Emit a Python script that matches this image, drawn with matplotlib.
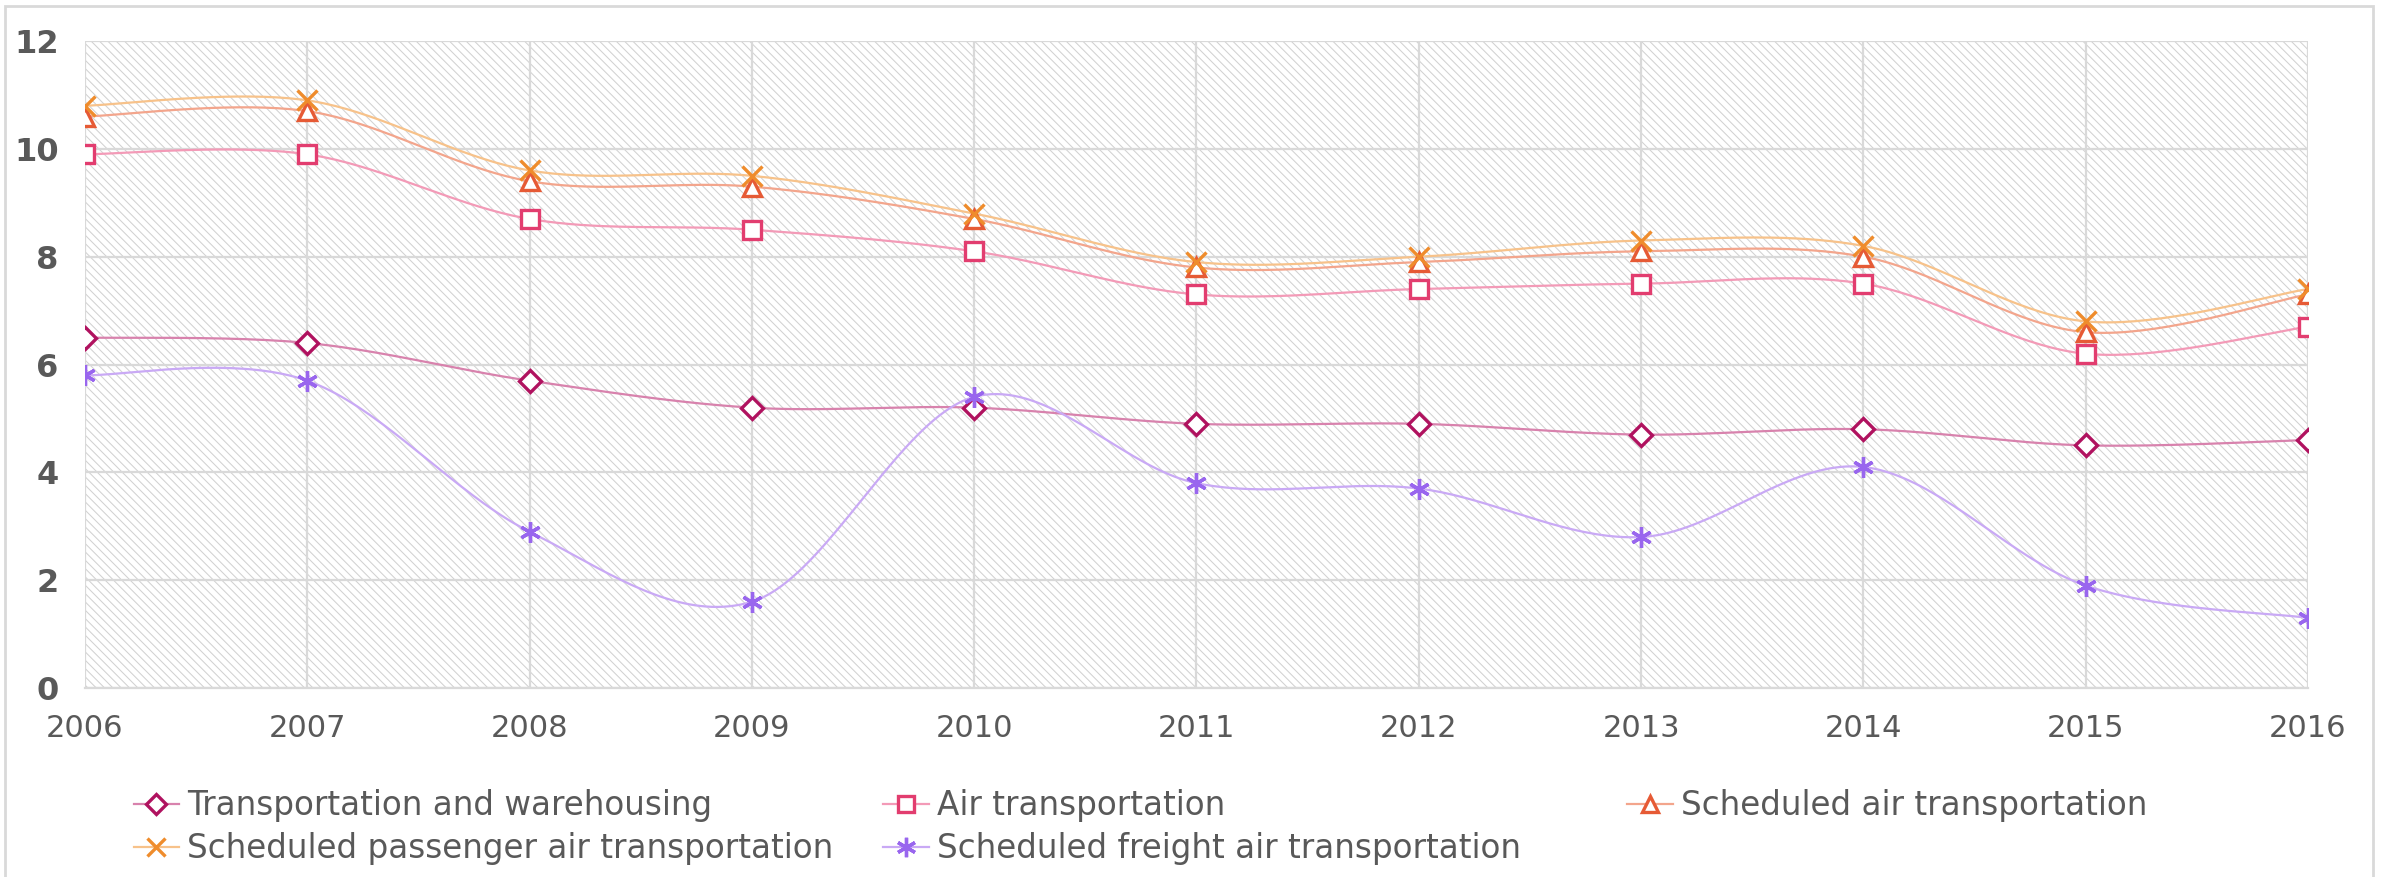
import numpy as np
import matplotlib
matplotlib.use("Agg")
import matplotlib.pyplot as plt
from matplotlib.patches import Rectangle
from matplotlib.lines import Line2D

years = [2006, 2007, 2008, 2009, 2010, 2011, 2012, 2013, 2014, 2015, 2016]

warehousing = [6.5, 6.4, 5.7, 5.2, 5.2, 4.9, 4.9, 4.7, 4.8, 4.5, 4.6]
air = [9.9, 9.9, 8.7, 8.5, 8.1, 7.3, 7.4, 7.5, 7.5, 6.2, 6.7]
scheduled = [10.6, 10.7, 9.4, 9.3, 8.7, 7.8, 7.9, 8.1, 8.0, 6.6, 7.3]
passenger = [10.8, 10.9, 9.6, 9.5, 8.8, 7.9, 8.0, 8.3, 8.2, 6.8, 7.4]
freight = [5.8, 5.7, 2.9, 1.6, 5.4, 3.8, 3.7, 2.8, 4.1, 1.9, 1.3]

names = [
    "Transportation and warehousing",
    "Air transportation",
    "Scheduled air transportation",
    "Scheduled passenger air transportation",
    "Scheduled freight air transportation",
]

STAR = (6, 2, 0)
# (marker, marker colour, line colour, size)
styles = [
    ("D", "#b0125f", "#d882ad", 11),
    ("s", "#e23d6f", "#f39ab7", 13),
    ("^", "#e65a35", "#f3a58c", 13),
    ("x", "#ef8c2c", "#f7c28a", 14),
    (STAR, "#9966ee", "#c9a9f5", 15),
]

TEXT = "#595959"
GRID = "#d9d9d9"


def smooth(xs, ys, n=40):
    # excel-like smoothing: bezier segments with catmull-rom control points
    p = np.column_stack([xs, ys]).astype(float)
    p = np.vstack([p[0], p, p[-1]])
    out = []
    t = np.linspace(0, 1, n)[:, None]
    for i in range(1, len(p) - 2):
        p0, p3 = p[i], p[i + 1]
        c1 = p0 + (p[i + 1] - p[i - 1]) / 6
        c2 = p3 - (p[i + 2] - p[i]) / 6
        seg = ((1 - t) ** 3) * p0 + 3 * ((1 - t) ** 2) * t * c1 + 3 * (1 - t) * t ** 2 * c2 + t ** 3 * p3
        out.append(seg if i == 1 else seg[1:])
    out = np.vstack(out)
    return out[:, 0], out[:, 1]


plt.rcParams["font.family"] = ["DejaVu Sans"]
plt.rcParams["hatch.linewidth"] = 0.75
plt.rcParams["hatch.color"] = "#d2d2d2"

fig = plt.figure(figsize=(23.86, 8.77), dpi=100)
ax = fig.add_axes([0.0356, 0.2155, 0.9317, 0.7377])

# hatched plot area
ax.add_patch(Rectangle((0, 0), 1, 1, transform=ax.transAxes, facecolor="white",
                       edgecolor="#d2d2d2", hatch="\\" * 4, lw=0, zorder=0))

series = [warehousing, air, scheduled, passenger, freight]
handles = []
for vals, name, (mk, mc, lc, ms) in zip(series, names, styles):
    sx, sy = smooth(years, vals)
    ax.plot(sx, sy, color=lc, lw=1.6, zorder=3, solid_capstyle="round")
    filled = mk in ("x", STAR)
    ax.plot(years, vals, ls="none", marker=mk, ms=ms, mew=2.4, mec=mc,
            mfc=mc if filled else "white", zorder=4)
    handles.append(Line2D([], [], color=lc, lw=1.6, marker=mk, mec=mc,
                          mfc=mc if filled else "white", ms=ms - 1, mew=2.4))

ax.set_xlim(2006, 2016)
ax.set_ylim(0, 12)
ax.set_xticks(years)
ax.set_yticks(range(0, 13, 2))
ax.grid(True, color=GRID, lw=1.6, zorder=1)
ax.set_axisbelow(True)
for s in ["top", "right", "left"]:
    ax.spines[s].set_visible(False)
ax.spines["bottom"].set_color(GRID)
ax.spines["bottom"].set_linewidth(1.6)
ax.tick_params(length=0)
ax.tick_params(axis="x", pad=19, labelsize=22, labelcolor=TEXT)
ax.tick_params(axis="y", pad=19, labelsize=23, labelcolor=TEXT)
for lb in ax.get_yticklabels():
    lb.set_fontweight("bold")

# legend: three fixed columns like the original
cols = [([0, 3], 0.056), ([1, 4], 0.370), ([2], 0.682)]
for idx, x0 in cols:
    fig.legend([handles[i] for i in idx], [names[i] for i in idx],
               loc="upper left", bbox_to_anchor=(x0, 0.100), frameon=False,
               fontsize=23.5, labelcolor=TEXT, handlelength=1.4, handletextpad=0.25,
               labelspacing=0.3, borderaxespad=0, borderpad=0)

fig.patches.append(Rectangle((0.002, -0.01), 0.9925, 1.003, transform=fig.transFigure,
                             fill=False, edgecolor=GRID, lw=2))

fig.savefig("out.png", dpi=100)
